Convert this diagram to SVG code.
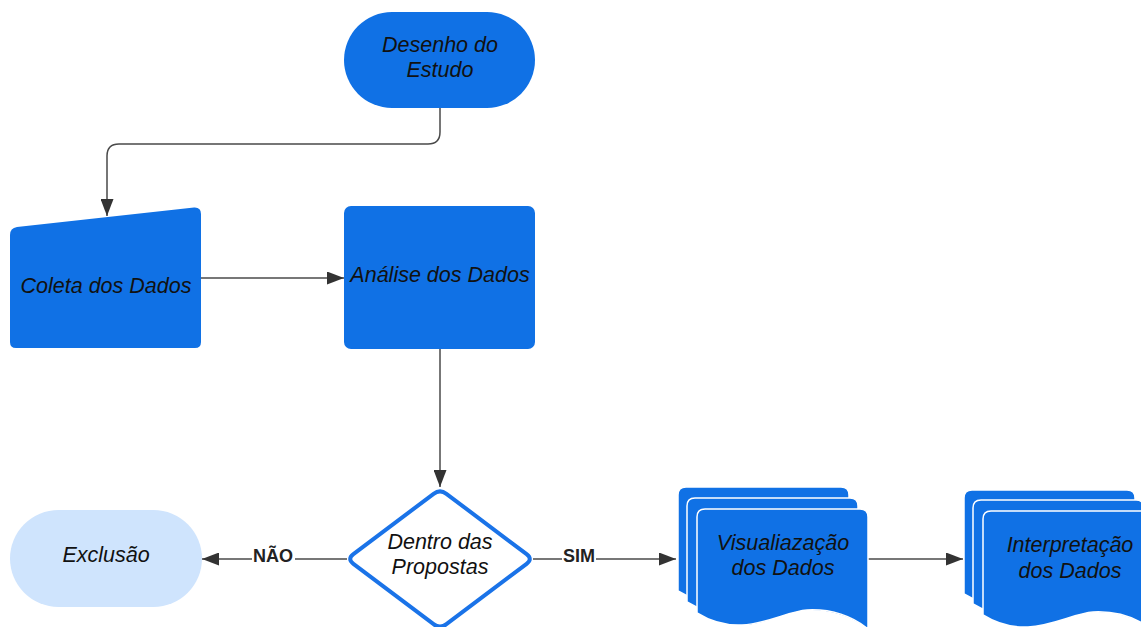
<svg xmlns="http://www.w3.org/2000/svg" width="1141" height="627" viewBox="0 0 1141 627">
<style>
.node{fill:#1071e5}
.t{font-family:"Liberation Sans",Arial,sans-serif;font-style:italic;font-size:21.5px;fill:#111;text-anchor:middle}
.lbl{font-family:"Liberation Sans",Arial,sans-serif;font-weight:bold;font-size:18px;fill:#222;text-anchor:middle}
.edge{fill:none;stroke:#4a4a4a;stroke-width:1.5}
.sheet{fill:#1071e5;stroke:#fff;stroke-width:1.5}
</style>
<defs>
<marker id="arr" markerUnits="userSpaceOnUse" markerWidth="17" markerHeight="13" refX="17" refY="6.5" orient="auto">
<path d="M0,0 L17,6.5 L0,13 Z" fill="#333"/>
</marker>
<path id="doc" d="M0,8 Q0,0 8,0 H163 Q171,0 171,8 V120 C152,105 130,100 110,101 C82,103 45,132 0,104 Z"/>
</defs>
<rect width="1141" height="627" fill="#fff"/>
<g id="connectors">
<path class="edge" d="M440,108 V132 Q440,144 428,144 H119 Q107,144 107,156 V216" marker-end="url(#arr)"/>
<path class="edge" d="M201,278 H344" marker-end="url(#arr)"/>
<path class="edge" d="M440,349 V487" marker-end="url(#arr)"/>
<path class="edge" d="M347,559 H202" marker-end="url(#arr)"/>
<path class="edge" d="M533,559 H676" marker-end="url(#arr)"/>
<path class="edge" d="M868,559 H963" marker-end="url(#arr)"/>
<rect x="252" y="546" width="43" height="24" fill="#fff"/>
<text class="lbl" x="273" y="562">NÃO</text>
<rect x="562" y="546" width="34" height="24" fill="#fff"/>
<text class="lbl" x="579" y="562">SIM</text>
</g>
<g id="desenho">
<rect class="node" x="344" y="12" width="191" height="96" rx="48"/>
<text class="t" x="440" y="52">Desenho do</text>
<text class="t" x="440" y="77">Estudo</text>
</g>
<g id="coleta">
<path class="node" d="M10,235 Q10,228 17,227 L194,207.5 Q201,207 201,214 V342 Q201,348 195,348 H16 Q10,348 10,342 Z"/>
<text class="t" x="106" y="293">Coleta dos Dados</text>
</g>
<g id="analise">
<rect class="node" x="344" y="206" width="191" height="143" rx="7"/>
<text class="t" x="440" y="282">Análise dos Dados</text>
</g>
<g id="dentro">
<path d="M433.6,493.8 Q440,489 446.4,493.8 L526.6,554.2 Q533,559 526.6,563.8 L446.4,624.2 Q440,629 433.6,624.2 L353.4,563.8 Q347,559 353.4,554.2 Z" fill="#fff" stroke="#1a73e8" stroke-width="4" stroke-linejoin="round"/>
<text class="t" x="440" y="549">Dentro das</text>
<text class="t" x="440" y="574">Propostas</text>
</g>
<g id="exclusao">
<rect x="10" y="510" width="192" height="97" rx="48.5" fill="#cfe4fd"/>
<text class="t" x="106" y="562">Exclusão</text>
</g>
<g id="visualizacao">
<use href="#doc" class="sheet" x="678" y="487"/>
<use href="#doc" class="sheet" x="687" y="498"/>
<use href="#doc" class="sheet" x="697" y="509"/>
<text class="t" x="783" y="550">Visualiazação</text>
<text class="t" x="783" y="575">dos Dados</text>
</g>
<g id="interpretacao">
<use href="#doc" class="sheet" x="964" y="490"/>
<use href="#doc" class="sheet" x="973" y="500"/>
<use href="#doc" class="sheet" x="983" y="511"/>
<text class="t" x="1070" y="552">Interpretação</text>
<text class="t" x="1070" y="578">dos Dados</text>
</g>
</svg>
